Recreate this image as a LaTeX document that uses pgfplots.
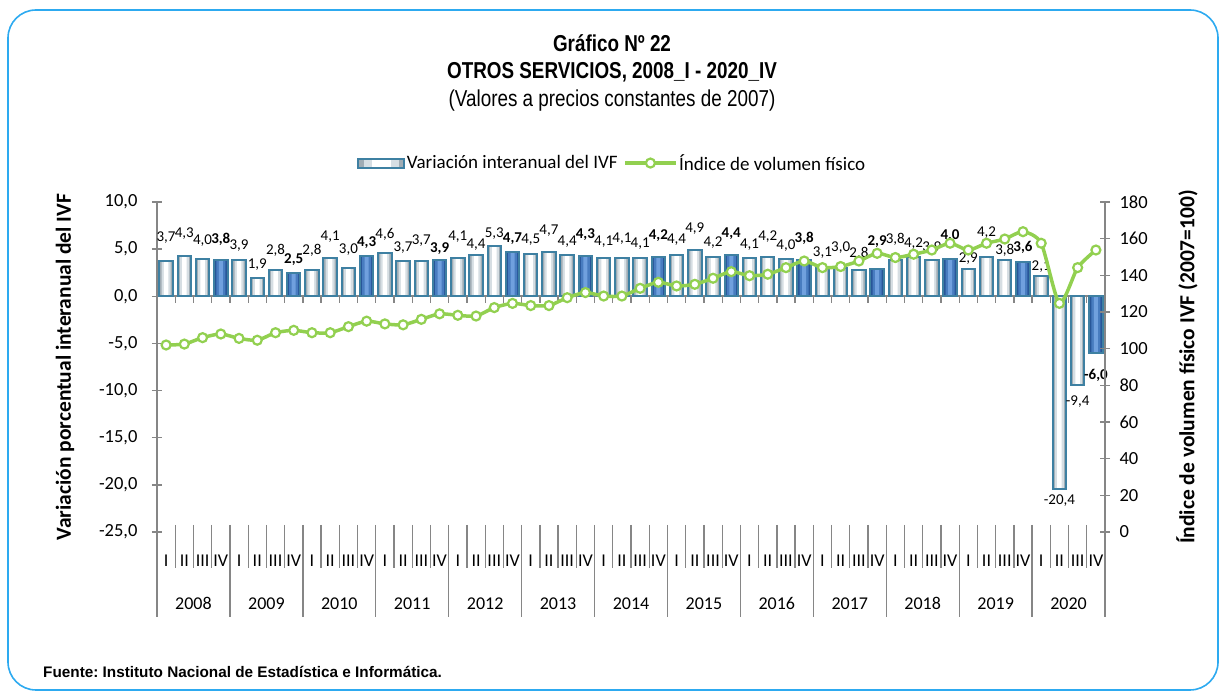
\documentclass[border=0pt]{standalone}
\usepackage{pgfplots}
\usepackage{pgfplotstable}
\pgfplotsset{compat=1.18}
\usepackage{fontspec}
\setmainfont{Carlito}
\newfontfamily\arialn[FakeStretch=0.82]{Liberation Sans}
\newfontfamily\arial{Liberation Sans}
\frenchspacing

\definecolor{brd}{RGB}{62,128,162}
\definecolor{grn}{RGB}{146,208,80}
\definecolor{frame}{RGB}{45,170,240}
\definecolor{axgray}{RGB}{134,134,134}
\definecolor{lgE}{RGB}{160,172,180}
\definecolor{lgM}{RGB}{214,222,227}
\definecolor{dbE}{RGB}{40,86,152}
\definecolor{dbM}{RGB}{72,124,192}
\definecolor{dbC}{RGB}{112,160,222}

\pgfplotstableread{
x y off
0 3.7 24
1 4.3 22
2 4.0 18
4 3.9 14
5 1.9 14
6 2.8 20
8 2.8 20
9 4.1 21
10 3.0 18
12 4.6 19
13 3.7 14
14 3.7 21
16 4.1 21
17 4.4 10
18 5.3 13
20 4.5 14
21 4.7 21
22 4.4 13
24 4.1 16
25 4.1 19
26 4.1 14
28 4.4 15
29 4.9 21
30 4.2 14
32 4.1 13
33 4.2 20
34 4.0 13
36 3.1 14
37 3.0 20
38 2.8 17
40 3.8 21
41 4.2 13
42 3.9 12
44 2.9 10
45 4.2 24
46 3.8 10
48 2.1 10
49 -20.4 -12
50 -9.4 -17
}\light

\pgfplotstableread{
x y off
3 3.8 21
7 2.5 13
11 4.3 13
15 3.9 11
19 4.7 13
23 4.3 21
27 4.2 21
31 4.4 21
35 3.8 22
39 2.9 27
43 4.0 23
47 3.6 15
51 -6.0 -23
}\dark

\pgfplotstableread{
x v
0 102
1 102.5
2 106
3 108
4 105.6
5 104.6
6 108.7
7 110
8 108.7
9 108.7
10 112
11 115
12 113.5
13 113
14 116
15 119
16 118.2
17 117.8
18 122.4
19 124.7
20 123.5
21 123.5
22 127.8
23 130.6
24 128.7
25 128.7
26 132.9
27 136.2
28 134.2
29 135.1
30 138.4
31 142
32 139.8
33 140.6
34 144.2
35 147.8
36 144.2
37 144.8
38 147.8
39 152
40 149.7
41 151.5
42 153.8
43 157.5
44 153.8
45 157.5
46 159.8
47 163.8
48 157.5
49 124.7
50 144.2
51 153.8
}\lineT

\pgfplotsset{
  common/.style={
    width=948pt, height=330pt, scale only axis,
    at={(157pt,166pt)}, anchor=south west,
    xmin=-0.5, xmax=51.5,
    axis x line=none,
    axis line style={axgray, line width=1.3pt, -},
    ytick style={axgray, line width=1.3pt},
    major tick length=10pt, tick align=center,
    tick label style={font=\fontsize{18.5}{20}\selectfont},
    clip=false,
  },
  fillbar/.style={ybar, bar shift=0pt, draw=none, forget plot},
  labs/.style={
    visualization depends on={\thisrow{off}\as\myoff},
    nodes near coords={\pgfmathprintnumber[fixed,fixed zerofill,precision=1,use comma,assume math mode=true]{\pgfplotspointmeta}},
    every node near coord/.append style={anchor=center, yshift=\myoff pt, text=black, font=#1\fontsize{15}{17}\selectfont, inner sep=0pt},
  },
}

\begin{document}
\begin{tikzpicture}[x=1pt,y=1pt]
\useasboundingbox (0,0) rectangle (1226,698);
% frame
\draw[frame, line width=1.6pt, rounded corners=28pt] (8,8) rectangle (1218,688);
% titles
\node[font=\arialn\bfseries\fontsize{23}{27}\selectfont] at (612,655) {Gráfico Nº 22};
\node[font=\arialn\bfseries\fontsize{23}{27}\selectfont] at (612,626) {OTROS SERVICIOS, 2008\_I - 2020\_IV};
\node[font=\arialn\fontsize{23}{27}\selectfont] at (612,597) {(Valores a precios constantes de 2007)};
\node[font=\arial\bfseries\fontsize{15.3}{18}\selectfont, anchor=west, inner sep=0pt] at (43,26) {Fuente: Instituto Nacional de Estadística e Informática.};

% zero line with category ticks (behind bars)
\draw[axgray, line width=1.3pt] (157,402) -- (1105,402);
\foreach \b in {0,...,52} {
  \draw[axgray, line width=1.3pt] ({157+\b*18.2308},402) -- ({157+\b*18.2308},395);
}

\begin{axis}[common,
  ymin=-25, ymax=10, ytick={-25,-20,...,10},
  axis y line*=left,
  yticklabel={\pgfmathprintnumber[fixed,fixed zerofill,precision=1,use comma,assume math mode=true]{\tick}},
  yticklabel style={xshift=-11pt},
  ylabel={Variación porcentual interanual del IVF},
  every axis y label/.style={at={(rel axis cs:0,0.5)}, xshift=-92pt, rotate=90, anchor=center, font=\bfseries\fontsize{21.5}{25}\selectfont},
]
% light bars (quarters I-III)
\addplot[fillbar, bar width=13.5pt, fill=lgE] table[x=x,y=y] {\light};
\addplot[fillbar, bar width=9pt, fill=lgM] table[x=x,y=y] {\light};
\addplot[fillbar, bar width=4.5pt, fill=white] table[x=x,y=y] {\light};
\addplot[ybar, bar shift=0pt, bar width=13.5pt, fill=none, draw=brd, line width=2pt, labs={}] table[x=x,y=y] {\light};
% dark bars (quarter IV)
\addplot[fillbar, bar width=13.5pt, fill=dbE] table[x=x,y=y] {\dark};
\addplot[fillbar, bar width=9pt, fill=dbM] table[x=x,y=y] {\dark};
\addplot[fillbar, bar width=4pt, fill=dbC] table[x=x,y=y] {\dark};
\addplot[ybar, bar shift=0pt, bar width=13.5pt, fill=none, draw=brd, line width=2pt, labs={\bfseries}] table[x=x,y=y] {\dark};
\end{axis}

\begin{axis}[common,
  ymin=0, ymax=180, ytick={0,20,...,180},
  axis y line*=right,
  yticklabel={\pgfmathprintnumber[assume math mode=true]{\tick}},
  yticklabel style={xshift=6pt},
  ylabel={Índice de volumen físico IVF (2007=100)},
  every axis y label/.style={at={(rel axis cs:1,0.5)}, xshift=82pt, rotate=90, anchor=center, font=\bfseries\fontsize{21.5}{25}\selectfont},
  legend style={at={(0.48,1.118)}, anchor=center, draw=none, fill=none, legend columns=2,
    font=\fontsize{19}{22}\selectfont, inner sep=0pt,
    /tikz/every even column/.append style={column sep=4pt}},
  legend cell align=left,
]
\addlegendimage{legend image code/.code={
  \fill[lgE] (0pt,-4.5pt) rectangle (46pt,4.5pt);
  \fill[lgM] (6pt,-4.5pt) rectangle (40pt,4.5pt);
  \fill[white] (14pt,-4.5pt) rectangle (32pt,4.5pt);
  \draw[brd, line width=2pt] (0pt,-4.5pt) rectangle (46pt,4.5pt);}}
\addlegendentry{Variación interanual del IVF}
\addplot[grn, line width=3.5pt, smooth, tension=0.4, mark=*, mark size=4.5pt,
  mark options={fill=white, draw=grn, line width=2.2pt},
  legend image code/.code={\draw[mark repeat=2,mark phase=2] plot coordinates {(0pt,0pt) (25pt,0pt) (50pt,0pt)};}
] table[x=x,y=v] {\lineT};
\addlegendentry{Índice de volumen físico}
\end{axis}

% category axis labels
\foreach \y [count=\k from 0] in {2008,...,2020} {
  \node[font=\fontsize{18}{20}\selectfont, anchor=base] at ({157+(4*\k+2)*18.2308},88) {\y};
  \foreach \q [count=\j from 0] in {I,II,III,IV} {
    \node[font=\fontsize{18}{20}\selectfont, anchor=base] at ({157+(4*\k+\j+0.5)*18.2308},131) {\q};
  }
}
\foreach \b in {0,...,52} {
  \pgfmathtruncatemacro\r{mod(\b,4)}
  \ifnum\r=0
    \draw[axgray, line width=1.3pt] ({157+\b*18.2308},173) -- ({157+\b*18.2308},81);
  \else
    \draw[axgray, line width=1.3pt] ({157+\b*18.2308},173) -- ({157+\b*18.2308},130);
  \fi
}
\end{tikzpicture}
\end{document}
